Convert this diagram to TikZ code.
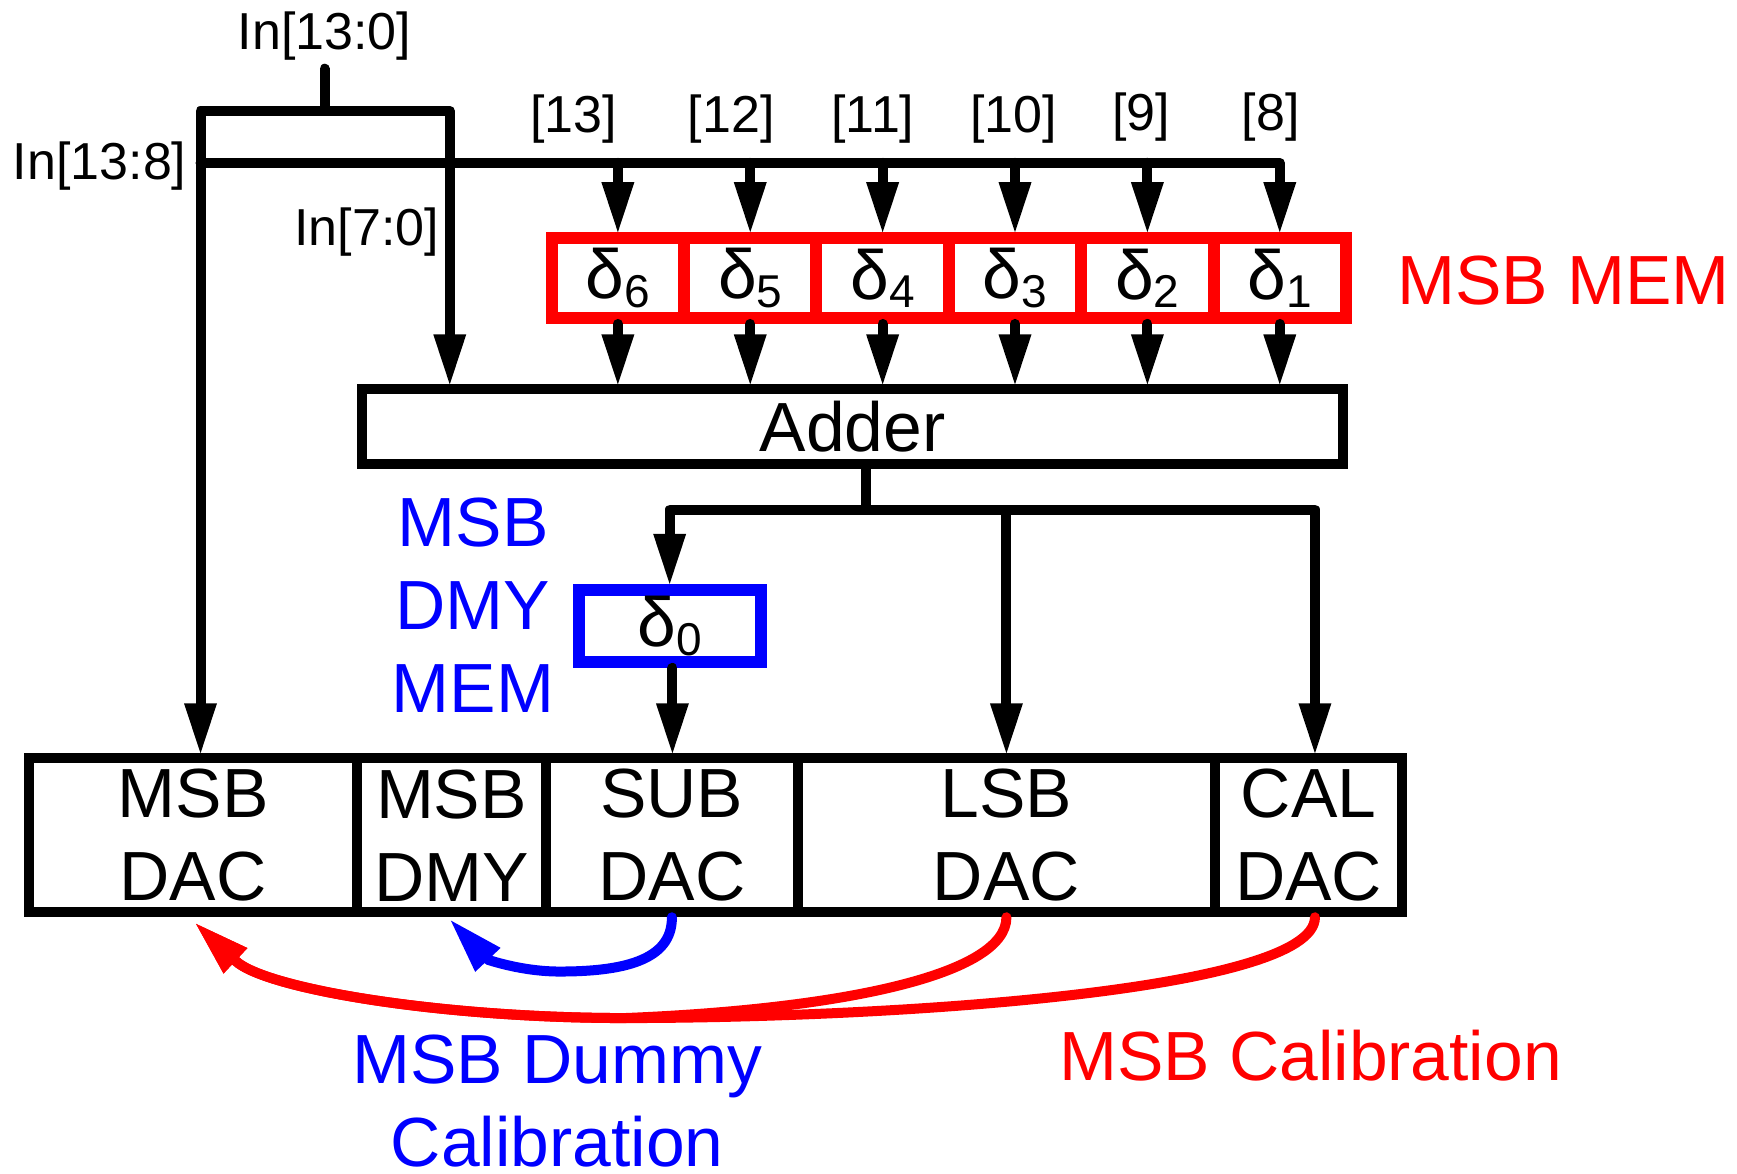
\documentclass[tikz,border=0pt]{standalone}
\usepackage{fontspec}
\setmainfont{Liberation Sans}
\usetikzlibrary{arrows.meta,calc}
\newcommand\pxu{0.5539pt}
\newcommand\dsub[1]{δ\raisebox{-4.2pt}{\fontsize{23}{23}\selectfont #1}}
\definecolor{pred}{RGB}{255,0,0}
\definecolor{pblue}{RGB}{0,0,255}
\begin{document}
\begin{tikzpicture}[x=0.5539pt,y=-0.5539pt,
  big/.style={font=\fontsize{34.8}{41.5}\selectfont},
  small/.style={font=\fontsize{26}{30}\selectfont},
  wire/.style={line width=5pt,line join=round,line cap=round},
  arr/.style={-{Triangle[length=25pt,width=16.5pt,line width=0pt]}},
  carr/.style={-{Triangle[length=27pt,width=17.5pt,line width=0pt]}},
  memcell/.style={draw=pred,line width=6pt,inner sep=0pt,minimum width=119.5*\pxu,minimum height=72*\pxu,big},
  dacbox/.style={draw,line width=5pt,inner sep=0pt,minimum height=139*\pxu,align=center,big},
]
\path[fill=white] (0,0) rectangle (1568,1059);

% labels
\node[small,anchor=base] (in130) at (293,45) {In[13:0]};
\node[small,anchor=base] (in138) at (90,162) {In[13:8]};
\node[small,anchor=base] (in70) at (331,222) {In[7:0]};
\node[small,anchor=base] (b13) at (518,120) {[13]};
\node[small,anchor=base] (b12) at (660,120) {[12]};
\node[small,anchor=base] (b11) at (788,120) {[11]};
\node[small,anchor=base] (b10) at (915,120) {[10]};
\node[small,anchor=base] (b9) at (1030,118) {[9]};
\node[small,anchor=base] (b8) at (1147,118) {[8]};

% MSB memory cells
\node[memcell] (d6) at (557.75,251) {\dsub{6}};
\node[memcell] (d5) at (677.25,251) {\dsub{5}};
\node[memcell] (d4) at (796.75,251) {\dsub{4}};
\node[memcell] (d3) at (916.25,251) {\dsub{3}};
\node[memcell] (d2) at (1035.75,251) {\dsub{2}};
\node[memcell] (d1) at (1155.25,251) {\dsub{1}};
\node[big,text=pred,anchor=base west] (msbmem) at (1255,275) {MSB MEM};

% adder
\node[draw,line width=5pt,inner sep=0pt,minimum width=886*\pxu,minimum height=67*\pxu,big] (adder) at (769.5,385) {Adder};

% dummy memory
\node[draw=pblue,line width=6pt,inner sep=0pt,minimum width=164*\pxu,minimum height=65*\pxu,big] (d0) at (604.5,565) {\dsub{0}};
\node[big,text=pblue,align=center] (dmymem) at (427,546.5) {MSB\\DMY\\MEM};

% DAC row
\node[dacbox,minimum width=295.5*\pxu] (msbdac) at (174.25,754) {MSB\\DAC};
\node[dacbox,minimum width=171*\pxu] (msbdmy) at (407.5,754) {MSB\\DMY};
\node[dacbox,minimum width=227*\pxu] (subdac) at (606.5,754) {SUB\\DAC};
\node[dacbox,minimum width=377*\pxu] (lsbdac) at (908.5,754) {LSB\\DAC};
\node[dacbox,minimum width=168.5*\pxu] (caldac) at (1181.25,754) {CAL\\DAC};

% bottom labels
\node[big,text=pblue,align=center] (dumcal) at (503,994) {MSB Dummy\\Calibration};
\node[big,text=pred,anchor=base] (msbcal) at (1183,975) {MSB Calibration};

% coordinates
\coordinate (stubtop) at (293,62);
\coordinate (tap) at (293,100);
\coordinate (x181) at (181,0);
\coordinate (x406) at (406,0);
\coordinate (b138) at (181,147);
\coordinate (ao) at (782,460);
\coordinate (x1187) at (1187,0);
\coordinate (x607) at (607,0);
\coordinate (rtip) at (177,834);
\coordinate (btip) at (407,831);
\coordinate (rjoin) at (564,919);

% input wiring
\draw[wire] (stubtop) -- (tap);
\draw[wire,arr] (tap) -| (adder.north -| x406);
\draw[wire,arr] (tap) -| (msbdac.north -| x181);
\draw[wire,arr] (b138) -| (d1.north);
\foreach \c in {d2,d3,d4,d5,d6}{
  \draw[wire,arr] (\c.north |- b138) -- (\c.north);
}
\foreach \c in {d1,d2,d3,d4,d5,d6}{
  \draw[wire,arr] (\c.south) -- (\c.north |- adder.north);
}

% adder outputs
\draw[wire] (adder.south -| ao) -- (ao);
\draw[wire,arr] (ao) -| (d0.north);
\draw[wire,arr] (ao) -| (lsbdac.north);
\draw[wire,arr] (ao) -| (caldac.north -| x1187);
\draw[wire,arr] (d0.south -| x607) -- (subdac.north -| x607);

% calibration curves
\draw[wire,pblue,carr] (subdac.south) .. controls (607,868) and (560,877) .. (505,877)
  .. controls (470,877) and (440,866) .. (btip);
\draw[wire,pred,carr] (caldac.south -| x1187) .. controls (1187,895) and (800,919) .. (rjoin)
  .. controls (400,919) and (240,893) .. (rtip);
\draw[wire,pred,carr] (lsbdac.south) .. controls (908.5,880) and (760,911) .. (rjoin)
  .. controls (400,919) and (240,893) .. (rtip);
\end{tikzpicture}
\end{document}
